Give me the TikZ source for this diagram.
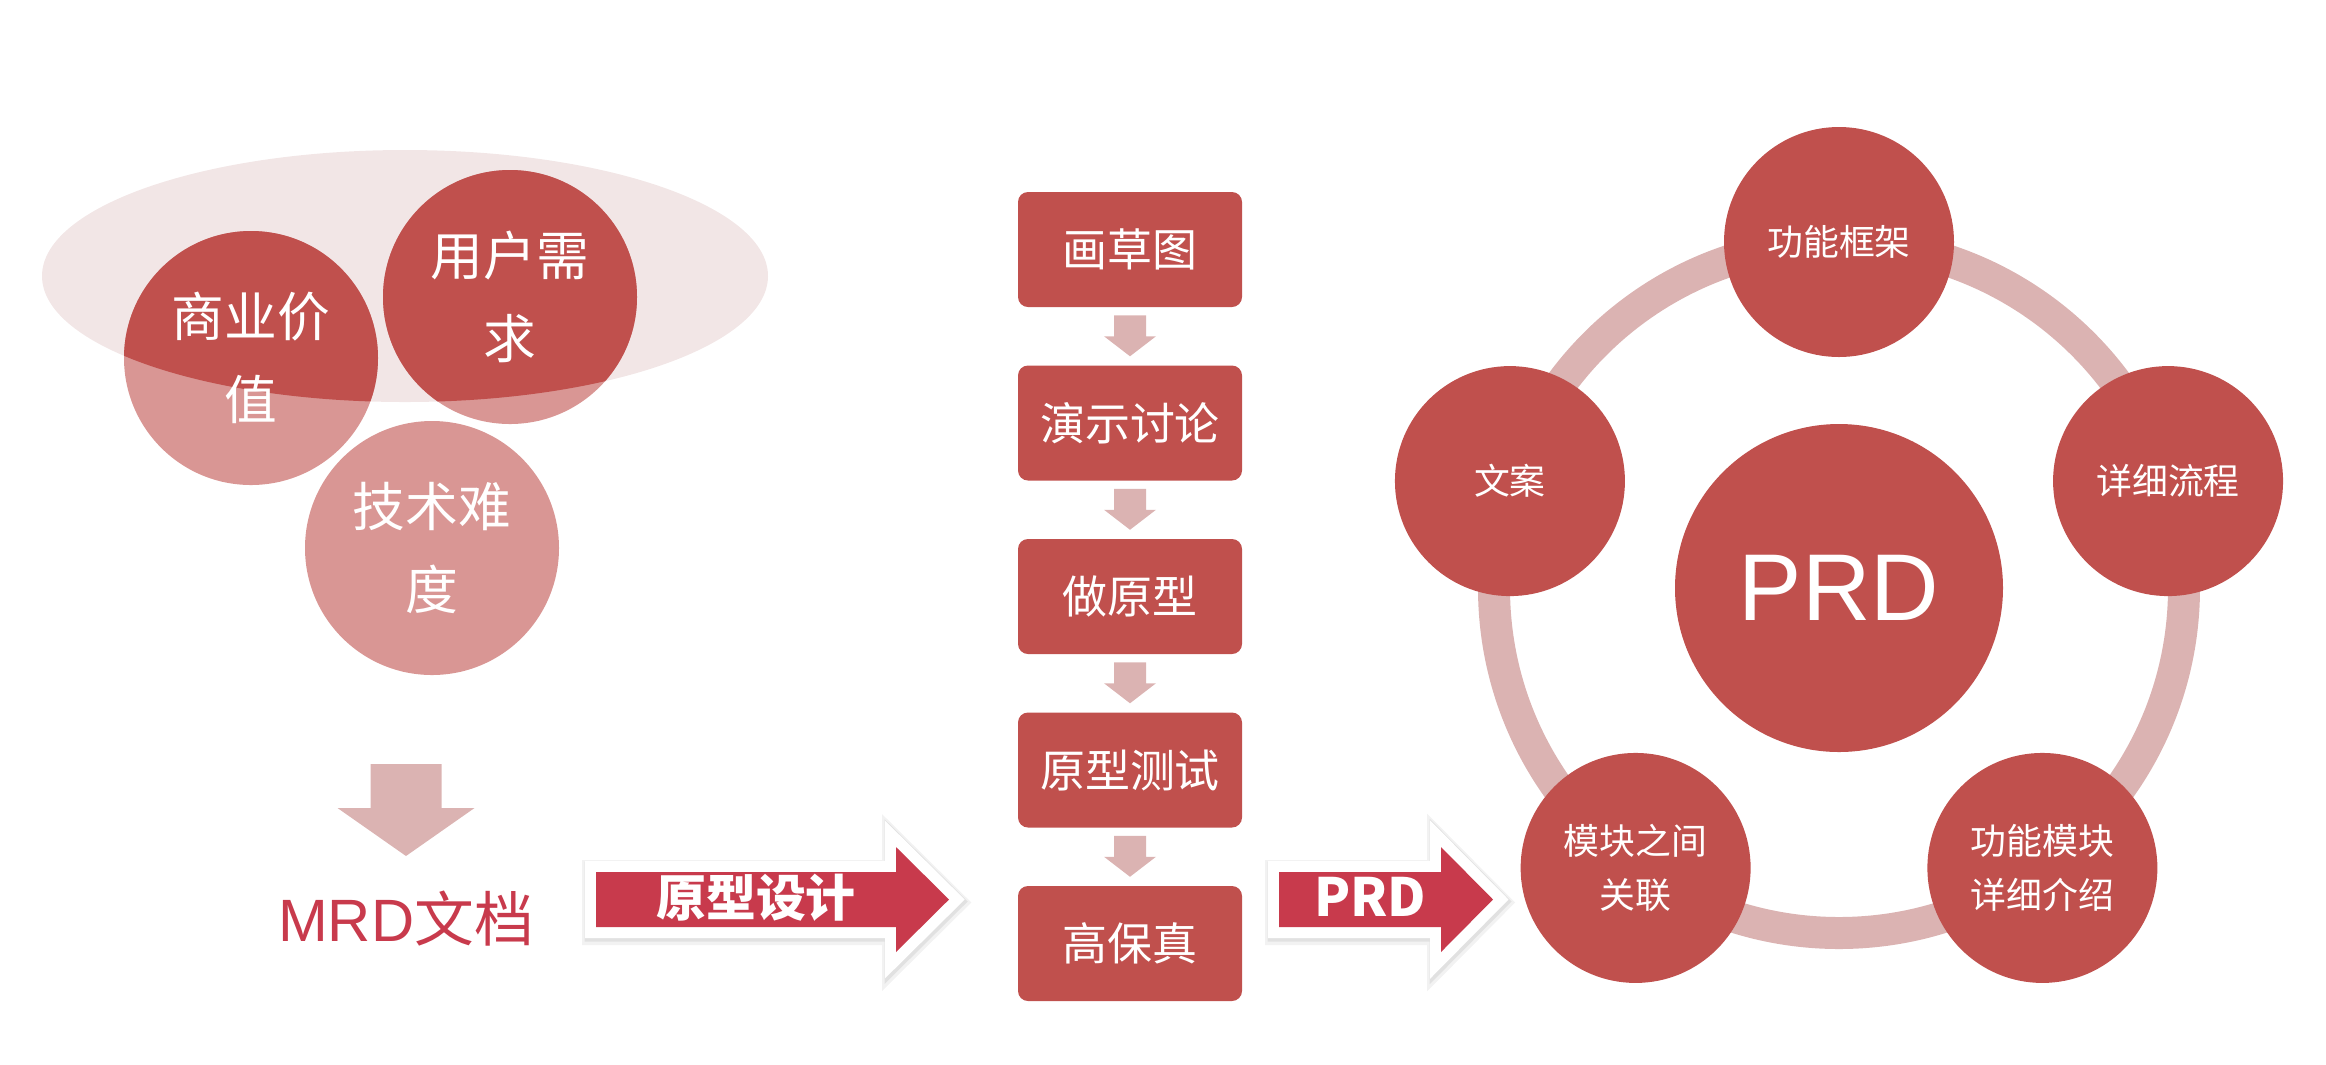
\documentclass[tikz,border=0pt]{standalone}
\usepackage{fontspec}
\newfontfamily\cjk{Noto Sans CJK SC}
\newfontfamily\latin{Liberation Sans}
\usetikzlibrary{backgrounds,calc}

\definecolor{prdbrick}{RGB}{192, 80, 77}
\definecolor{prdsoft}{RGB}{217, 150, 148}
\definecolor{prdoval}{RGB}{242, 230, 230}
\definecolor{prdpink}{RGB}{219, 179, 178}
\definecolor{prdcrimson}{RGB}{200, 58, 76}

\begin{document}
\begin{tikzpicture}[y=-1cm,
    bubble/.style={circle, minimum size=2.54cm, inner sep=0pt, text=white, align=center,
      font=\cjk\fontsize{15}{23.6}\selectfont},
    stepbox/.style={rectangle, rounded corners=0.1cm, fill=prdbrick, minimum width=2.24cm,
      minimum height=1.15cm, text=white, font=\cjk\fontsize{12.8}{15}\selectfont},
    petal/.style={circle, fill=prdbrick, minimum size=2.3cm, inner sep=0pt, text=white,
      align=center, font=\cjk\fontsize{10.2}{15.6}\selectfont},
    bigarrow/.style={fill=prdcrimson, line join=miter,
      preaction={draw=black, draw opacity=0.05, line width=0.30cm,
        transform canvas={xshift=0.01cm, yshift=-0.03cm}},
      preaction={draw=black, draw opacity=0.07, line width=0.25cm,
        transform canvas={xshift=0.01cm, yshift=-0.02cm}},
      preaction={draw=white, fill=white, line width=0.22cm}},
    arrowlabel/.style={text=white, inner sep=0pt, font=\cjk\bfseries\fontsize{14.2}{16}\selectfont}]
  \useasboundingbox (0,0) rectangle (23.26,10.64);

  % requirement bubbles
  \node[bubble] (biz) at (2.51,3.58) {商业价\\值};
  \node[bubble] (user) at (5.10,2.97) {用户需\\求};
  \node[bubble] (tech) at (4.32,5.48) {技术难\\度};
  \begin{scope}[on background layer]
    \fill[prdoval] (4.05,2.76) ellipse (3.63 and 1.26);
    \foreach \b in {biz,user,tech}
      \fill[prdsoft] (\b.center) circle (1.27);
    \clip (4.05,2.76) ellipse (3.63 and 1.26);
    \foreach \b in {biz,user}
      \fill[prdbrick] (\b.center) circle (1.27);
  \end{scope}

  % down to MRD
  \fill[prdpink] (3.705,7.64) -- (4.415,7.64) -- (4.415,8.08) -- (4.745,8.08)
    -- (4.06,8.56) -- (3.375,8.08) -- (3.705,8.08) -- cycle;
  \node[text=prdcrimson, inner sep=0pt, font=\fontsize{17}{20}\selectfont] (mrd) at (4.06,9.19)
    {{\latin MRD}{\cjk 文档}};

  % prototype design arrow
  \fill[bigarrow] (5.96,8.72) -- (8.96,8.72) -- (8.96,8.47) -- (9.49,8.995)
    -- (8.96,9.52) -- (8.96,9.27) -- (5.96,9.27) -- cycle;
  \node[arrowlabel] (proto) at (7.56,8.975) {原型设计};

  % prototype steps
  \foreach \lbl [count=\i] in {画草图,演示讨论,做原型,原型测试,高保真}
    \node[stepbox] (s\i) at (11.30,{2.495+1.735*(\i-1)}) {\lbl};
  \foreach \a/\b in {1/2,2/3,3/4,4/5}
    \fill[prdpink, shift={($(s\a.south)!0.5!(s\b.north)$)}]
      (-0.16,-0.21) -- (0.16,-0.21) -- (0.16,0) -- (0.26,0) -- (0,0.20)
      -- (-0.26,0) -- (-0.16,0) -- cycle;

  % PRD arrow
  \fill[bigarrow] (12.79,8.72) -- (14.41,8.72) -- (14.41,8.47) -- (14.93,8.995)
    -- (14.41,9.52) -- (14.41,9.27) -- (12.79,9.27) -- cycle;
  \node[arrowlabel, font=\cjk\bfseries\fontsize{15}{16}\selectfont] (prdtag) at (13.70,8.97) {PRD};

  % PRD cycle
  \coordinate (hub) at (18.39,5.88);
  \draw[prdpink, line width=0.32cm] (hub) circle (3.45);
  \node[circle, fill=prdbrick, minimum size=3.28cm, text=white,
    font=\latin\fontsize{27}{30}\selectfont] (prd) at (hub) {PRD};
  \foreach \lbl [count=\i] in {{功能框架},{详细流程},{功能模块\\详细介绍},{模块之间\\关联},{文案}}
    \node[petal] (p\i) at ($(hub)+({72*(\i-1)-90}:3.46)$) {\lbl};
\end{tikzpicture}
\end{document}
